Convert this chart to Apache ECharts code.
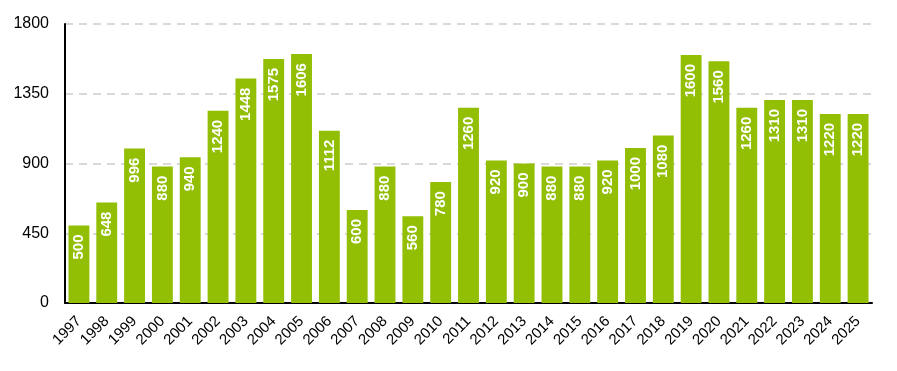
<!DOCTYPE html>
<html><head><meta charset="utf-8">
<script src="https://cdn.jsdelivr.net/npm/echarts@6/dist/echarts.min.js"></script>
<style>html,body{margin:0;padding:0;background:#fff}#c{width:897px;height:371px}</style>
</head><body><div id="c"></div>
<script>
const years = ['1997','1998','1999','2000','2001','2002','2003','2004','2005','2006','2007','2008','2009','2010','2011','2012','2013','2014','2015','2016','2017','2018','2019','2020','2021','2022','2023','2024','2025'];
const values = [500,648,996,880,940,1240,1448,1575,1606,1112,600,880,560,780,1260,920,900,880,880,920,1000,1080,1600,1560,1260,1310,1310,1220,1220];
const yTicks = [0,450,900,1350,1800];

const FONT = '"Liberation Sans", Arial, sans-serif';
const chart = echarts.init(document.getElementById('c'), null, {renderer:'canvas'});
chart.setOption({
  animation:false,
  grid:{left:65,right:25,top:24,bottom:68,containLabel:false},
  xAxis:{type:'category',data:years,
    axisLine:{lineStyle:{color:'#000',width:2}},axisTick:{show:false},
    axisLabel:{rotate:45,color:'#000',fontFamily:FONT,fontSize:15,margin:16,interval:0}},
  yAxis:{type:'value',min:yTicks[0],max:yTicks[yTicks.length-1],interval:450,
    axisLine:{show:true,lineStyle:{color:'#000',width:2}},axisTick:{show:false},
    axisLabel:{color:'#000',fontFamily:FONT,fontSize:16,margin:16,formatter:v=>String(v)},
    splitLine:{lineStyle:{color:'#d9d9d9',type:[8,6],width:2}}},
  series:[{type:'bar',data:values,barCategoryGap:'25%',
    itemStyle:{color:'#92be04'},
    label:{show:true,position:'insideTop',rotate:90,align:'right',verticalAlign:'middle',distance:9,
      color:'#fff',fontWeight:'bold',fontFamily:FONT,fontSize:15}}]
});
</script></body></html>
